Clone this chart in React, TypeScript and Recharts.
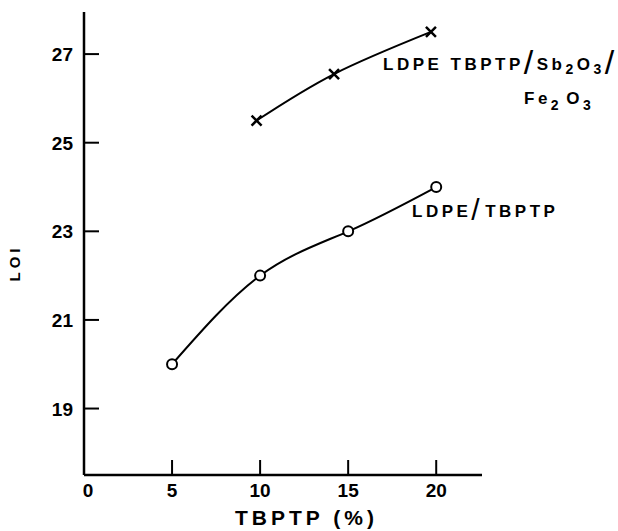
import { LineChart, Line, XAxis, YAxis } from "recharts";

// LOI vs TBPTP loading for the two LDPE formulations
const tbptpOnly = [
  { x: 5, loi: 20 },
  { x: 10, loi: 22 },
  { x: 15, loi: 23 },
  { x: 20, loi: 24 },
];

const tbptpSbFe = [
  { x: 9.8, loi: 25.5 },
  { x: 14.2, loi: 26.55 },
  { x: 19.7, loi: 27.5 },
];

const xTicks = [0, 5, 10, 15, 20];
const yTicks = [19, 21, 23, 25, 27];

const FONT = "'Liberation Sans', Arial, sans-serif";

const XTick = ({ x, y, payload }: any) => (
  <g>
    {payload.value !== 0 && (
      <line x1={x} y1={y} x2={x} y2={y - 15} stroke="#000" strokeWidth={2} />
    )}
    <text
      x={x + (payload.value === 0 ? 4 : 0)}
      y={y + 22}
      textAnchor="middle"
      fontSize={19}
      fontWeight="bold"
      fontFamily={FONT}
      fill="#000"
    >
      {payload.value}
    </text>
  </g>
);

const YTick = ({ x, y, payload }: any) => (
  <g>
    <line x1={x} y1={y} x2={x + 15} y2={y} stroke="#000" strokeWidth={2} />
    <text
      x={x - 11}
      y={y + 7}
      textAnchor="end"
      fontSize={19}
      fontWeight="bold"
      fontFamily={FONT}
      fill="#000"
    >
      {payload.value}
    </text>
  </g>
);

const CircleDot = ({ cx, cy }: any) => (
  <circle cx={cx} cy={cy} r={5} fill="#fff" stroke="#000" strokeWidth={2} />
);

const CrossDot = ({ cx, cy }: any) => (
  <path
    d={`M${cx - 5},${cy - 5}L${cx + 5},${cy + 5}M${cx + 5},${cy - 5}L${cx - 5},${cy + 5}`}
    stroke="#000"
    strokeWidth={2.5}
  />
);

const labelStyle = {
  fontFamily: FONT,
  fontWeight: "bold" as const,
  fill: "#000",
};

export default function App() {
  return (
    <div style={{ position: "absolute", left: 0, top: 0, background: "#fff" }}>
      <LineChart
        width={618}
        height={531}
        margin={{ top: 12, right: 136, bottom: 26, left: 24 }}
      >
        <XAxis
          type="number"
          dataKey="x"
          domain={[0, 22.6]}
          ticks={xTicks}
          height={30}
          tickSize={0}
          tickMargin={0}
          tick={<XTick />}
          axisLine={{ stroke: "#000", strokeWidth: 2.5 }}
          tickLine={false}
          allowDataOverflow
        />
        <YAxis
          type="number"
          dataKey="loi"
          domain={[17.5, 27.95]}
          ticks={yTicks}
          width={60}
          tickSize={0}
          tickMargin={0}
          tick={<YTick />}
          axisLine={{ stroke: "#000", strokeWidth: 2.5 }}
          tickLine={false}
          allowDataOverflow
        />
        <Line
          data={tbptpOnly}
          dataKey="loi"
          type="natural"
          stroke="#000"
          strokeWidth={2}
          dot={<CircleDot />}
          activeDot={false}
          isAnimationActive={false}
        />
        <Line
          data={tbptpSbFe}
          dataKey="loi"
          type="natural"
          stroke="#000"
          strokeWidth={2}
          dot={<CrossDot />}
          activeDot={false}
          isAnimationActive={false}
        />
        <g>
          <text x={235} y={525} fontSize={21} letterSpacing={4} {...labelStyle}>
            TBPTP (%)
          </text>
          <text
            x={20}
            y={263}
            fontSize={15}
            textAnchor="middle"
            transform="rotate(-90 20 263)"
            letterSpacing={4}
            {...labelStyle}
          >
            LOI
          </text>
          <text x={383} y={70} fontSize={17} letterSpacing={3.5} {...labelStyle}>
            LDPE TBPTP
            <tspan fontSize={34} fontWeight="normal" dy={4}>/</tspan>
            <tspan dy={-4}>Sb</tspan>
            <tspan fontSize={14} dy={4}>2</tspan>
            <tspan dy={-4}>O</tspan>
            <tspan fontSize={14} dy={4}>3</tspan>
            <tspan fontSize={34} fontWeight="normal" dy={0}>/</tspan>
          </text>
          <text x={524} y={104} fontSize={17} letterSpacing={3.5} {...labelStyle}>
            Fe
            <tspan fontSize={14} dy={6}>2</tspan>
            <tspan dy={-6} dx={4}>O</tspan>
            <tspan fontSize={14} dy={6}>3</tspan>
          </text>
          <text x={412} y={217} fontSize={17} letterSpacing={3.5} {...labelStyle}>
            LDPE
            <tspan fontSize={30} fontWeight="normal" dy={3}>/</tspan>
            <tspan dy={-3} dx={2}>TBPTP</tspan>
          </text>
        </g>
      </LineChart>
    </div>
  );
}
